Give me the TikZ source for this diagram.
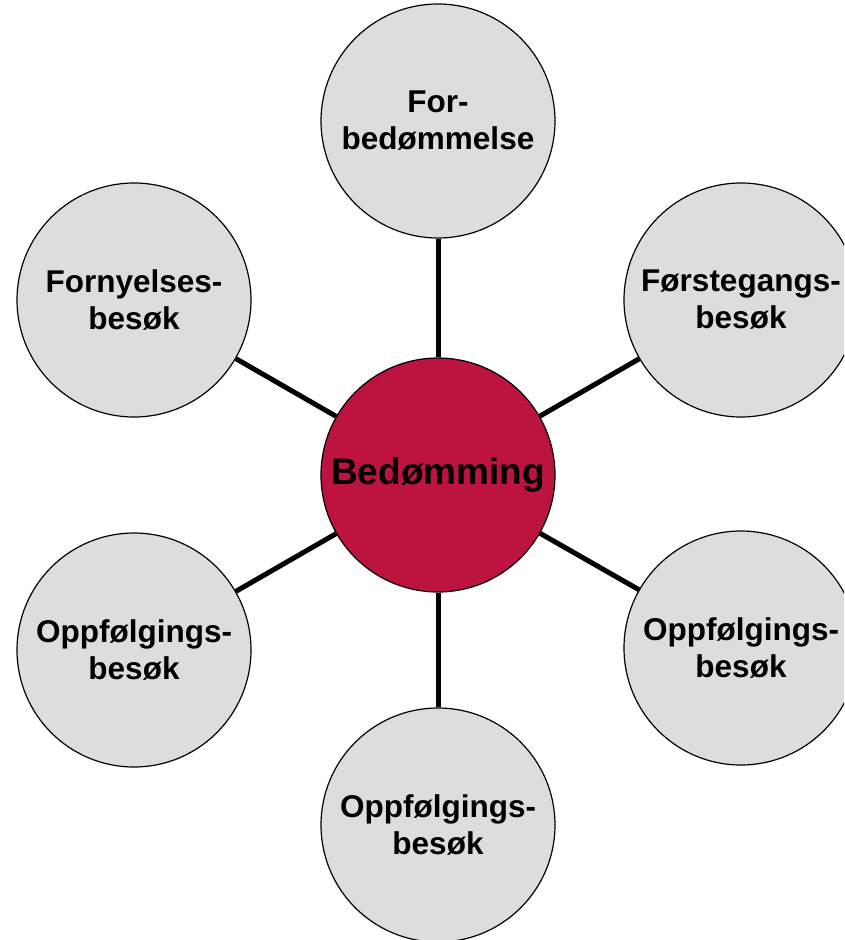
\documentclass[tikz,border=0pt]{standalone}
\usepackage{fontspec}
\setmainfont{Liberation Sans}
\definecolor{discgray}{HTML}{DDDDDD}
\definecolor{hubred}{HTML}{BC143E}
\begin{document}
\begin{tikzpicture}[x=1pt,y=-1pt,
  disc/.style={circle, draw=black, line width=1.2pt, fill=discgray,
    minimum size=234pt, inner sep=0pt, align=center,
    font=\bfseries\fontsize{31.5}{37}\selectfont},
  hubnode/.style={circle, draw=black, line width=1.2pt, fill=hubred,
    minimum size=234pt, inner sep=0pt, align=center,
    font=\bfseries\fontsize{37}{44}\selectfont},
  spoke/.style={line width=5pt, draw=black}]
\useasboundingbox (0,0) rectangle (844,940);
\clip (0,0) rectangle (844,940);
\node[hubnode] (c) at (438,475) {Bedømming};
\node[disc] (n1) at (438,121) {For-\\bedømmelse};
\node[disc] (n2) at (741,300) {Førstegangs-\\besøk};
\node[disc] (n3) at (741,648) {Oppfølgings-\\besøk};
\node[disc] (n4) at (438,825) {Oppfølgings-\\besøk};
\node[disc] (n5) at (134,650) {Oppfølgings-\\besøk};
\node[disc] (n6) at (134,300) {Fornyelses-\\besøk};
\foreach \n in {n1,n2,n3,n4,n5,n6}{\draw[spoke] (c) -- (\n);}
\end{tikzpicture}
\end{document}
